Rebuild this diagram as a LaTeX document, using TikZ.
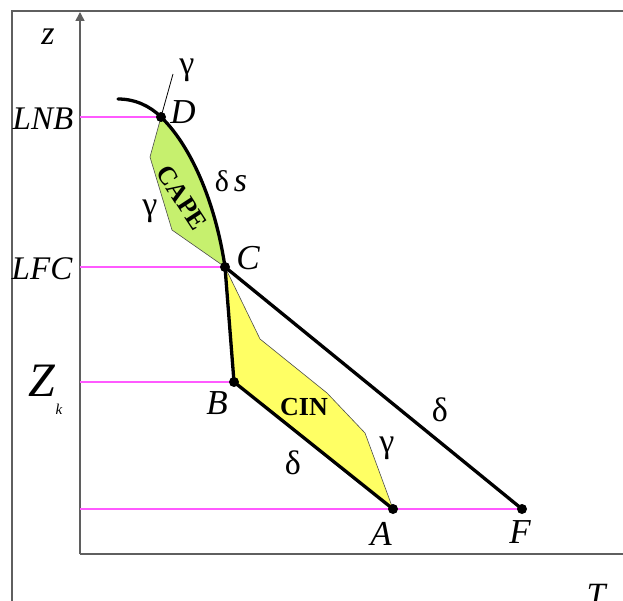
\documentclass[tikz,border=0pt]{standalone}
\usepackage{fontspec}
\setmainfont{Liberation Serif}
\usetikzlibrary{arrows.meta}
\definecolor{capegreen}{RGB}{198,240,110}
\definecolor{cinyellow}{RGB}{255,255,100}
\definecolor{levelmag}{RGB}{255,90,255}
\definecolor{framegray}{RGB}{95,95,95}
\tikzset{
  dot/.style={circle,fill=black,inner sep=0pt,minimum size=10pt},
  thickline/.style={line width=3.3pt,line cap=round},
  levelline/.style={levelmag,line width=1.4pt},
  framestyle/.style={framegray,line width=1.6pt},
  axislabel/.style={font=\fontsize{33}{33}\selectfont\itshape,inner sep=0pt},
  ptlabel/.style={font=\fontsize{35}{35}\selectfont\itshape,inner sep=0pt},
  greek/.style={font=\fontsize{34}{34}\selectfont,inner sep=0pt},
  area/.style={font=\fontsize{26}{26}\selectfont\bfseries,inner sep=0pt},
  edgepoly/.style={draw=black!70,line width=0.6pt}
}
\begin{document}
\begin{tikzpicture}[x=1pt,y=-1pt]
\useasboundingbox (0,0) rectangle (623,601);
% frame and axes
\draw[framestyle] (12,601) -- (12,11) -- (623,11);
\coordinate (O) at (80,554);
\coordinate (ytop) at (80,12);
\coordinate (xend) at (623,554);
\draw[framestyle,-{Triangle[length=9pt,width=9pt]}] (O) -- (ytop);
\draw[framestyle] (O) -- (xend);
% points
\coordinate (D) at (161,117);
\coordinate (C) at (225,267);
\coordinate (B) at (234,382);
\coordinate (A) at (393,509);
\coordinate (F) at (522,509);
\coordinate (S) at (118,99);
\coordinate (gtop) at (173,74);
% axis anchors for level lines
\coordinate (yD) at (80,117);
\coordinate (yC) at (80,267);
\coordinate (yB) at (80,382);
\coordinate (yA) at (80,509);
% areas
\filldraw[fill=capegreen,edgepoly] (D) -- (150,157) -- (172,230) -- (C)
   .. controls (215,200) and (190,145) .. (D) -- cycle;
\filldraw[fill=cinyellow,edgepoly] (C) -- (260,339) -- (327,393) -- (365,433) -- (A) -- (B) -- cycle;
% level lines
\draw[levelline] (yD) -- (D);
\draw[levelline] (yC) -- (C);
\draw[levelline] (yB) -- (B);
\draw[levelline] (yA) -- (F);
% curves
\draw[thickline] (S) .. controls (135,99) and (150,106) .. (D)
   .. controls (190,145) and (215,200) .. (C);
\draw[thickline] (C) -- (B) -- (A);
\draw[thickline] (C) -- (F);
\draw[line width=0.8pt] (D) -- (gtop);
% dots
\node[dot] (Dn) at (D) {};
\node[dot] (Cn) at (C) {};
\node[dot] (Bn) at (B) {};
\node[dot] (An) at (A) {};
\node[dot] (Fn) at (F) {};
% labels
\node[axislabel,font=\fontsize{34}{34}\selectfont\itshape] (zl) at (48,37) {z};
\node[axislabel] (lnb) at (43,119) {LNB};
\node[axislabel] (lfc) at (42,269) {LFC};
\node[inner sep=0pt,font=\fontsize{48}{48}\selectfont\itshape] (zk) at (42,381) {Z};
\node[inner sep=0pt,font=\fontsize{15}{15}\selectfont\itshape] (kk) at (59,409) {k};
\node[axislabel,font=\fontsize{34}{34}\selectfont\itshape] (tl) at (596,595) {T};
\node[ptlabel] (Dl) at (183,112) {D};
\node[ptlabel] (Cl) at (248,258) {C};
\node[ptlabel] (Bl) at (217,403) {B};
\node[ptlabel] (Al) at (381,534) {A};
\node[ptlabel] (Fl) at (520,532) {F};
\node[greek] (g1) at (187,70) {γ};
\node[greek] (g2) at (150,211) {γ};
\node[greek] (g3) at (387,448) {γ};
\node[inner sep=0pt] (ds) at (231,181) {\fontsize{30}{30}\selectfont δ\,\fontsize{34}{34}\selectfont\textit{s}};
\node[greek] (d1) at (293,463) {δ};
\node[greek] (d2) at (440,410) {δ};
\node[area,rotate=-57] (cape) at (182,198) {CAPE};
\node[area] (cin) at (304,407) {CIN};
\end{tikzpicture}
\end{document}
